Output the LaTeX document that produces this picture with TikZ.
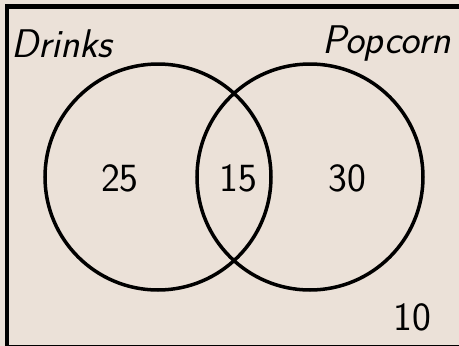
\documentclass[tikz,border=0pt]{standalone}
\definecolor{bgbeige}{RGB}{235,225,216}
\tikzset{
  venn/.style={circle, draw=black, line width=3.5pt, minimum size=226pt, inner sep=0pt},
  lbl/.style={font=\fontsize{40}{48}\selectfont\sffamily, inner sep=0pt},
  setname/.style={font=\fontsize{40}{48}\selectfont\sffamily\slshape, inner sep=0pt}
}
\begin{document}
\begin{tikzpicture}[x=1pt,y=-1pt]
\useasboundingbox (0,0) rectangle (459,346);
\fill[bgbeige] (0,0) rectangle (459,346);
\draw[line width=4.5pt] (7,6.5) rectangle (470,347);
\node[venn] (A) at (158,177) {};
\node[venn] (B) at (310,177) {};
\node[setname, anchor=base west] (dr) at (11,57) {Drinks};
\node[setname, anchor=base east] (pc) at (451,53) {Popcorn};
\node[lbl] (n25) at (120,178) {25};
\node[lbl] (n15) at (238,178) {15};
\node[lbl] (n30) at (347,178) {30};
\node[lbl] (n10) at (412,317) {10};
\end{tikzpicture}
\end{document}
